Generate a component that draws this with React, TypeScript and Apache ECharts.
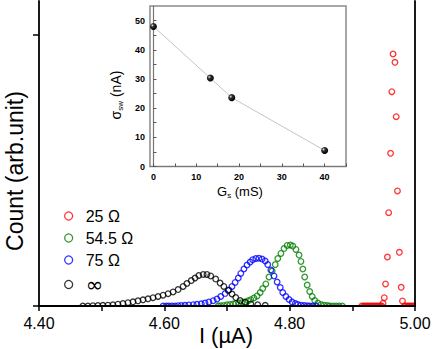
import React, { useEffect, useRef } from 'react';
import * as echarts from 'echarts';

// ---- main plot data: current I (µA) and count (arb. unit) ----
const redI = [4.915, 4.918, 4.920, 4.923, 4.925, 4.928, 4.930, 4.933, 4.935, 4.938, 4.940, 4.943, 4.945, 4.947,
  4.949, 4.951, 4.953, 4.956, 4.958, 4.961, 4.963, 4.965, 4.968, 4.970, 4.972, 4.975, 4.978, 4.980,
  4.983, 4.985, 4.988, 4.990, 4.993, 4.995, 4.998, 5.000];
const redCount = [0, 0, 0, 0, 0, 0, 0, 0, 0, 0, 0, 0, 0, 0,
  0.40, 1.22, 3.25, 7.23, 13.77, 22.53, 31.62, 37.18, 35.95, 27.93, 16.97, 7.92, 2.76, 0.74,
  0, 0, 0, 0, 0, 0, 0, 0];

const greenI = [4.686, 4.690, 4.695, 4.700, 4.705, 4.710, 4.714, 4.719, 4.724, 4.729, 4.734, 4.738, 4.743, 4.748,
  4.753, 4.757, 4.762, 4.767, 4.772, 4.777, 4.781, 4.786, 4.791, 4.796, 4.801, 4.805, 4.810, 4.815, 4.818,
  4.821, 4.824, 4.828, 4.832, 4.836, 4.840, 4.845, 4.850, 4.855, 4.860, 4.864, 4.869, 4.874, 4.879, 4.884];
const greenCount = [0, 0.04, 0.09, 0.18, 0.24, 0.30, 0.37, 0.44, 0.50, 0.62, 0.77, 0.94, 1.18, 1.48,
  1.99, 2.58, 3.25, 4.28, 5.16, 6.12, 7.01, 7.75, 8.48, 8.93, 9.00, 8.85, 8.34, 7.52, 6.57,
  5.46, 4.28, 3.10, 2.14, 1.40, 0.81, 0.44, 0.22, 0.12, 0.06, 0, 0, 0, 0, 0];

const blueI = [4.598, 4.603, 4.607, 4.612, 4.617, 4.622, 4.627, 4.633, 4.639, 4.646, 4.652, 4.659, 4.665, 4.671,
  4.678, 4.684, 4.690, 4.697, 4.703, 4.708, 4.713, 4.718, 4.722, 4.727, 4.732, 4.737, 4.741, 4.746, 4.751,
  4.756, 4.761, 4.765, 4.770, 4.775, 4.780, 4.785, 4.789, 4.794, 4.799, 4.804, 4.809, 4.813, 4.818, 4.823,
  4.828, 4.832, 4.837, 4.842];
const blueCount = [0, 0, 0, 0, 0, 0.04, 0.07, 0.10, 0.15, 0.19, 0.25, 0.32, 0.44, 0.59,
  0.78, 1.03, 1.40, 1.84, 2.36, 2.88, 3.47, 4.13, 4.80, 5.46, 6.05, 6.49, 6.83, 7.01, 7.05,
  6.93, 6.64, 6.12, 5.31, 4.43, 3.54, 2.73, 1.99, 1.40, 0.96, 0.59, 0.37, 0.22, 0.12, 0.06,
  0.03, 0, 0, 0];

const blackI = [4.470, 4.478, 4.486, 4.494, 4.502, 4.510, 4.518, 4.526, 4.534, 4.542, 4.550, 4.558, 4.566, 4.574,
  4.582, 4.590, 4.598, 4.606, 4.614, 4.622, 4.630, 4.636, 4.643, 4.649, 4.655, 4.662, 4.668, 4.674, 4.682,
  4.689, 4.695, 4.702, 4.708, 4.714, 4.721, 4.729, 4.738, 4.749, 4.761];
const blackCount = [0, 0, 0.04, 0.07, 0.10, 0.13, 0.18, 0.27, 0.37, 0.49, 0.62, 0.77, 0.91, 1.06,
  1.22, 1.40, 1.59, 1.81, 2.07, 2.43, 2.88, 3.32, 3.76, 4.13, 4.50, 4.66, 4.65, 4.43, 3.98,
  3.39, 2.88, 2.29, 1.77, 1.25, 0.81, 0.52, 0.30, 0.18, 0.10];

const seriesNames = ['25 Ω', '54.5 Ω', '75 Ω', '∞'];
const seriesColors = ['#ff0000', '#008000', '#0000ff', '#000000'];
const mainXTicks = [4.4, 4.5, 4.6, 4.7, 4.8, 4.9, 5.0];
const mainXLabels = [4.4, 4.6, 4.8, 5.0];
const mainYTicks = [0, 40];

// ---- inset data: G_s (mS) vs sigma_sw (nA) ----
const insetG = [0, 13.3, 18.3, 40];
const insetSigma = [48, 30.3, 23.6, 5.5];
const insetXLabels = [0, 10, 20, 30, 40];
const insetXTicks = [0, 5, 10, 15, 20, 25, 30, 35, 40, 45];
const insetYLabels = [0, 10, 20, 30, 40, 50];
const insetYTicks = [0, 5, 10, 15, 20, 25, 30, 35, 40, 45, 50];

const pairs = (xs: number[], ys: number[]) => xs.map((x, i) => [x, ys[i]]);
const FONT = 'Liberation Sans, Arial, sans-serif';

export default function App() {
  const ref = useRef<HTMLDivElement>(null);
  useEffect(() => {
    document.body.style.margin = '0';
    const chart = echarts.init(ref.current!, null, { renderer: 'svg' });
    const datasets = [pairs(redI, redCount), pairs(greenI, greenCount), pairs(blueI, blueCount), pairs(blackI, blackCount)];
    const sphere = new echarts.graphic.RadialGradient(0.35, 0.35, 0.65, [
      { offset: 0, color: '#e8e8e8' },
      { offset: 0.35, color: '#333' },
      { offset: 1, color: '#000' },
    ]);
    const option: any = {
      animation: false,
      backgroundColor: '#fff',
      grid: [
        { left: 39, right: 21, top: 1, bottom: 43, show: false },
        { left: 150, right: 90, top: 6, bottom: 182.5, show: true, backgroundColor: '#fff', borderColor: '#8a8a8a', borderWidth: 1.5, z: 6 },
      ],
      legend: {
        orient: 'vertical', left: 59, top: 203, itemGap: 6, itemWidth: 8, itemHeight: 8, padding: 5,
        data: seriesNames,
        itemStyle: { borderWidth: 1.3 },
        formatter: (n: string) => (n === '∞' ? '{inf|∞}' : n),
        textStyle: {
          fontSize: 16, lineHeight: 16, fontFamily: FONT, color: '#000', padding: [0, 0, 0, 8],
          rich: { inf: { fontSize: 21, fontFamily: 'DejaVu Sans', lineHeight: 14, color: '#000' } },
        },
      },
      xAxis: [
        {
          gridIndex: 0, type: 'value', min: 4.4, max: 5.0, position: 'bottom', z: 10,
          axisLine: { lineStyle: { color: '#000', width: 1.8 } },
          axisTick: { customValues: mainXTicks, length: 5, inside: false, lineStyle: { color: '#000', width: 1.5 } },
          axisLabel: { customValues: mainXLabels, formatter: (v: number) => v.toFixed(2), fontSize: 16, fontFamily: FONT, color: '#000', margin: 9 },
          splitLine: { show: false },
        },
        {
          gridIndex: 0, type: 'value', min: 4.4, max: 5.0, position: 'top', z: 10,
          axisLine: { lineStyle: { color: '#000', width: 1.8 } },
          axisTick: { show: false }, axisLabel: { show: false }, splitLine: { show: false },
        },
        {
          gridIndex: 1, type: 'value', min: -0.8, max: 45, position: 'bottom', z: 7,
          axisLine: { lineStyle: { color: '#777', width: 1.2 } },
          axisTick: { customValues: insetXTicks, length: 3, inside: true, lineStyle: { color: '#555', width: 1 } },
          axisLabel: { customValues: insetXLabels, fontSize: 9, fontWeight: 'bold', fontFamily: FONT, color: '#000', margin: 6 },
          splitLine: { show: false },
        },
      ],
      yAxis: [
        {
          gridIndex: 0, type: 'value', min: 0, max: 45, position: 'left', z: 10,
          axisLine: { lineStyle: { color: '#000', width: 1.8 } },
          axisTick: { customValues: mainYTicks, length: 6, inside: false, lineStyle: { color: '#000', width: 1.5 } },
          axisLabel: { show: false }, splitLine: { show: false },
        },
        {
          gridIndex: 0, type: 'value', min: 0, max: 45, position: 'right', z: 10,
          axisLine: { lineStyle: { color: '#000', width: 1.8 } },
          axisTick: { show: false }, axisLabel: { show: false }, splitLine: { show: false },
        },
        {
          gridIndex: 1, type: 'value', min: 0, max: 55, position: 'left', z: 7,
          axisLine: { lineStyle: { color: '#777', width: 1.2 } },
          axisTick: { customValues: insetYTicks, length: 3, inside: true, lineStyle: { color: '#555', width: 1 } },
          axisLabel: { customValues: insetYLabels, fontSize: 9, fontWeight: 'bold', fontFamily: FONT, color: '#000', margin: 5 },
          splitLine: { show: false },
        },
      ],
      series: [
        ...datasets.map((d, i) => ({
          name: seriesNames[i], type: 'scatter', xAxisIndex: 0, yAxisIndex: 0,
          symbol: 'circle', symbolSize: 5.6, data: d,
          itemStyle: { color: 'rgba(255,255,255,0)', borderColor: seriesColors[i], borderWidth: 1.3 },
        })),
        {
          name: 'inset', type: 'line', xAxisIndex: 2, yAxisIndex: 2, z: 8,
          data: pairs(insetG, insetSigma), symbol: 'circle', symbolSize: 7, showSymbol: true,
          lineStyle: { color: '#b5b5b5', width: 0.8 },
          itemStyle: { color: sphere, borderWidth: 0 },
        },
      ],
      graphic: [
        { type: 'rect', z: 5, shape: { x: 0, y: 307, width: 436, height: 42 }, style: { fill: '#fff' } },
        { type: 'rect', z: 5, shape: { x: 416, y: 0, width: 20, height: 349 }, style: { fill: '#fff' } },
        { type: 'text', z: 20, x: 15, y: 171, rotation: Math.PI / 2,
          style: { text: 'Count (arb.unit)', fontSize: 23, fontFamily: FONT, fill: '#000', align: 'center', verticalAlign: 'middle' } },
        { type: 'text', z: 20, x: 226, y: 335,
          style: { text: 'I (µA)', fontSize: 22, fontFamily: FONT, fill: '#000', align: 'center', verticalAlign: 'middle' } },
        { type: 'text', z: 20, x: 240, y: 191,
          style: {
            text: '{n|G}{s|s}{n| (mS)}', align: 'center', verticalAlign: 'middle', fill: '#000',
            rich: {
              n: { fontSize: 13, fontFamily: FONT, lineHeight: 16, fill: '#000' },
              s: { fontSize: 8, fontFamily: FONT, lineHeight: 8, verticalAlign: 'bottom', fill: '#000' },
            },
          } },
        { type: 'text', z: 20, x: 116, y: 95, rotation: Math.PI / 2,
          style: {
            text: '{n|σ}{s|sw}{n| (nA)}', align: 'center', verticalAlign: 'middle', fill: '#000',
            rich: {
              n: { fontSize: 14, fontFamily: FONT, lineHeight: 16, fill: '#000' },
              s: { fontSize: 8, fontFamily: FONT, lineHeight: 8, verticalAlign: 'bottom', fill: '#000' },
            },
          } },
      ],
    };
    chart.setOption(option);
    return () => chart.dispose();
  }, []);
  return <div ref={ref} style={{ width: 436, height: 349 }} />;
}
